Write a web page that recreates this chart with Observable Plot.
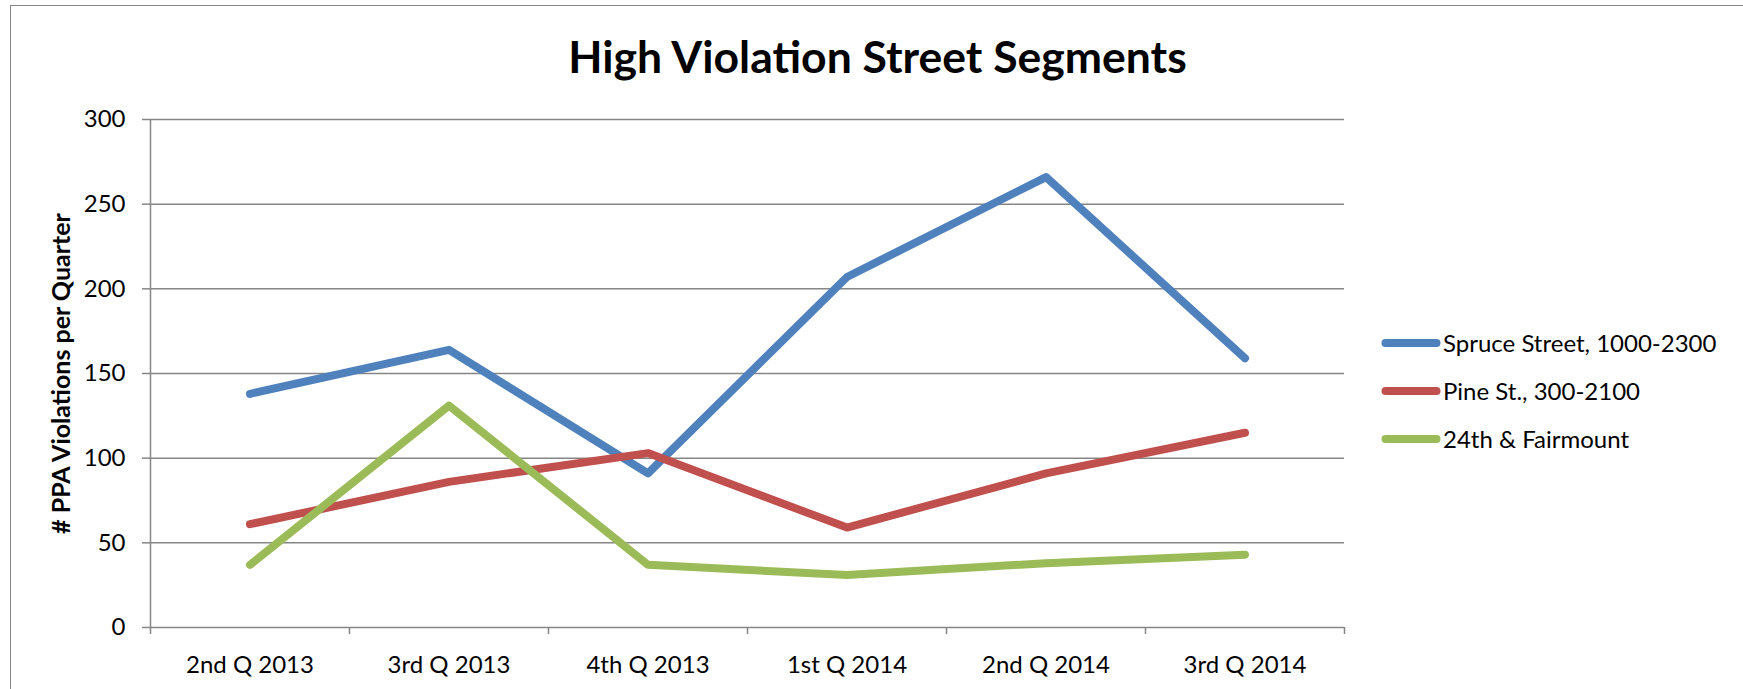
<!DOCTYPE html>
<html>
<head>
<meta charset="utf-8">
<script src="https://cdn.jsdelivr.net/npm/d3@7"></script>
<script src="https://cdn.jsdelivr.net/npm/@observablehq/plot@0.6"></script>
<style>
  html, body { margin: 0; padding: 0; background: #fff; width: 1743px; height: 689px; overflow: hidden; font-family: Lato, "Open Sans", sans-serif; }
  #border { position: absolute; left: 10px; top: 5px; width: 2000px; height: 1000px; border-left: 1.5px solid #878787; border-top: 1.5px solid #878787; }
  #chart { position: absolute; left: 0; top: 0; }
  #title { position: absolute; left: 10px; width: 1735px; top: 34px; text-align: center; font-weight: bold; font-size: 44.5px; line-height: 1; color: #000; white-space: nowrap; }
  .item { position: absolute; left: 1381px; height: 30px; display: flex; align-items: center; font-size: 24px; color: #000; white-space: nowrap; }
  .item svg { display: block; margin-right: 2px; }
</style>
</head>
<body>
<div id="border"></div>
<div id="chart"></div>
<div id="title"></div>
<div id="legend"></div>
<script>
const titleText = "High Violation Street Segments";
const yLabel = "# PPA Violations per Quarter";
const categories = ["2nd Q 2013", "3rd Q 2013", "4th Q 2013", "1st Q 2014", "2nd Q 2014", "3rd Q 2014"];
const series = ["Spruce Street, 1000-2300", "Pine St., 300-2100", "24th & Fairmount"];
const spruce = [138, 164, 91, 207, 266, 159];
const pine = [61, 86, 103, 59, 91, 115];
const fairmount = [37, 131, 37, 31, 38, 43];
const colors = ["#4F81BD", "#C0504D", "#9BBB59"];
const yTicks = [0, 50, 100, 150, 200, 250, 300];

const seriesValues = [spruce, pine, fairmount];
const data = [];
seriesValues.forEach((vals, s) => vals.forEach((v, i) => data.push({series: series[s], idx: i + 0.5, value: v})));

const axisColor = "#868686";

const plot = Plot.plot({
  width: 1743,
  height: 689,
  marginLeft: 150,
  marginRight: 399,
  marginTop: 119,
  marginBottom: 62,
  style: {fontFamily: "Lato, 'Open Sans', sans-serif", fontSize: "24px", color: "#000", background: "transparent", overflow: "visible"},
  x: {type: "linear", domain: [0, categories.length]},
  y: {domain: [0, 300]},
  color: {domain: series, range: colors},
  marks: [
    Plot.gridY(yTicks, {stroke: axisColor, strokeOpacity: 1, strokeWidth: 1.5}),
    Plot.ruleX([0], {stroke: axisColor, strokeWidth: 1.5}),
    Plot.axisY(yTicks, {tickSize: 8, tickPadding: 17, stroke: axisColor, strokeWidth: 1.5, fill: "#000", fontSize: 24, label: null, tickFormat: d => String(d)}),
    Plot.axisX(d3.range(categories.length + 1), {tickSize: 7, stroke: axisColor, strokeWidth: 1.5, tickFormat: () => "", label: null}),
    Plot.axisX(categories.map((c, i) => i + 0.5), {tickSize: 0, tickPadding: 28, fill: "#000", fontSize: 24, tickFormat: d => categories[Math.round(d - 0.5)], label: null}),
    Plot.line(data, {x: "idx", y: "value", z: "series", stroke: "series", strokeWidth: 8, strokeLinecap: "round", strokeLinejoin: "round"}),
    Plot.text([yLabel], {frameAnchor: "left", dx: -89, rotate: -90, fontWeight: "bold", fontSize: 25, textAnchor: "middle", lineAnchor: "middle", fill: "#000"})
  ]
});
document.getElementById("chart").appendChild(plot);

document.getElementById("title").textContent = titleText;

const legend = document.getElementById("legend");
const legendY = [342.7, 390.7, 438.5];
series.forEach((name, i) => {
  const item = document.createElement("div");
  item.className = "item";
  item.style.top = (legendY[i] - 15) + "px";
  item.innerHTML = `<svg width="60" height="10"><line x1="4.5" y1="5" x2="55.5" y2="5" stroke="${colors[i]}" stroke-width="8" stroke-linecap="round"/></svg>`;
  const span = document.createElement("span");
  span.textContent = name;
  item.appendChild(span);
  legend.appendChild(item);
});
</script>
</body>
</html>
